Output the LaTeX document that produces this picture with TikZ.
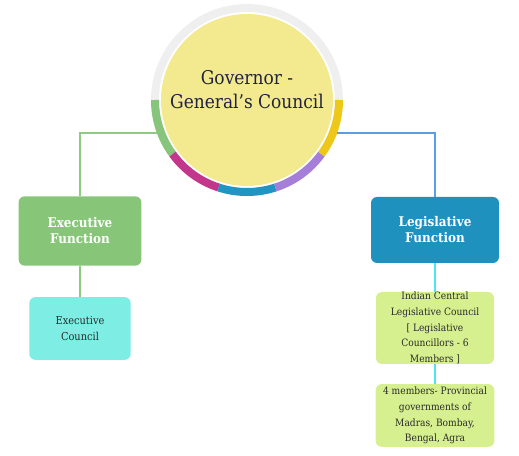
\documentclass[tikz,border=0pt]{standalone}
\usepackage{fontspec}
\setmainfont{DejaVu Serif Condensed}
\usetikzlibrary{positioning}
\definecolor{govYellow}{HTML}{F3E98E}
\definecolor{govText}{HTML}{1F2340}
\definecolor{ringGray}{HTML}{EFEFEF}
\definecolor{ringGreen}{HTML}{86C57B}
\definecolor{ringPink}{HTML}{C2368C}
\definecolor{ringBlue}{HTML}{2094C3}
\definecolor{ringPurple}{HTML}{A57ED9}
\definecolor{ringYellow}{HTML}{EEC819}
\definecolor{execGreen}{HTML}{87C679}
\definecolor{execCyan}{HTML}{7EEEE4}
\definecolor{legisBlue}{HTML}{1E91BF}
\definecolor{memberGreen}{HTML}{D7F08F}
\definecolor{lineGreen}{HTML}{8FCB7F}
\definecolor{lineBlue}{HTML}{5C9EE3}
\definecolor{lineCyan}{HTML}{4DE6EA}
\definecolor{boxText}{HTML}{2A2A2A}

\begin{document}
\begin{tikzpicture}[x=0.75pt,y=-0.75pt,
    function/.style={rounded corners=4.5pt, inner sep=0pt, align=center, text=white,
      font=\fontsize{10}{12}\selectfont\bfseries},
    member/.style={rounded corners=4.5pt, inner sep=0pt, align=center, text=boxText,
      font=\fontsize{7.6}{11.7}\selectfont},
    link/.style={line width=1.5pt}]
  \useasboundingbox (0,0) rectangle (519,456);
  % centre
  \node[circle, fill=govYellow, minimum size=129pt, inner sep=0pt, outer sep=7.5pt] (gov) at (247,100) {};
  \node[align=center, text=govText, font=\fontsize{14.2}{18}\selectfont] (govtext)
    at ([yshift=8pt]gov.center) {Governor -\\General's Council};
  \draw[ringGray, line width=6pt] (gov.center) circle (69pt);
  \foreach \col [count=\i] in {ringGreen,ringPink,ringBlue,ringPurple,ringYellow}
    \draw[\col, line width=6pt] ([shift={(180+36*\i-36:69pt)}]gov.center)
      arc[start angle=180+36*\i-36, delta angle=36, radius=69pt];
  % boxes
  \node[function, fill=execGreen, minimum width=92pt, minimum height=52pt] (exec) at (80,231)
    {Executive\\Function};
  \node[member, fill=execCyan, minimum width=76pt, minimum height=47pt,
    font=\fontsize{8.2}{12}\selectfont] (execc) at (80,328.5)
    {Executive\\Council};
  \node[function, fill=legisBlue, minimum width=96pt, minimum height=49.5pt] (legis) at (435,230)
    {Legislative\\Function};
  \node[member, fill=memberGreen, minimum width=88.5pt, minimum height=54pt] (icl) at (435,328)
    {Indian Central\\Legislative Council\\{[} Legislative\\Councillors - 6\\Members ]};
  \node[member, fill=memberGreen, minimum width=89pt, minimum height=47pt] (prov) at (435,415.5)
    {4 members- Provincial\\governments of\\Madras, Bombay,\\Bengal, Agra};
  % connectors
  \draw[link, lineGreen] (gov.200) -| (exec.north);
  \draw[link, lineBlue] (gov.340) -| (legis.north);
  \draw[link, lineGreen] (exec) -- (execc);
  \draw[link, lineCyan] (legis) -- (icl);
  \draw[link, lineCyan] (icl) -- (prov);
\end{tikzpicture}
\end{document}
